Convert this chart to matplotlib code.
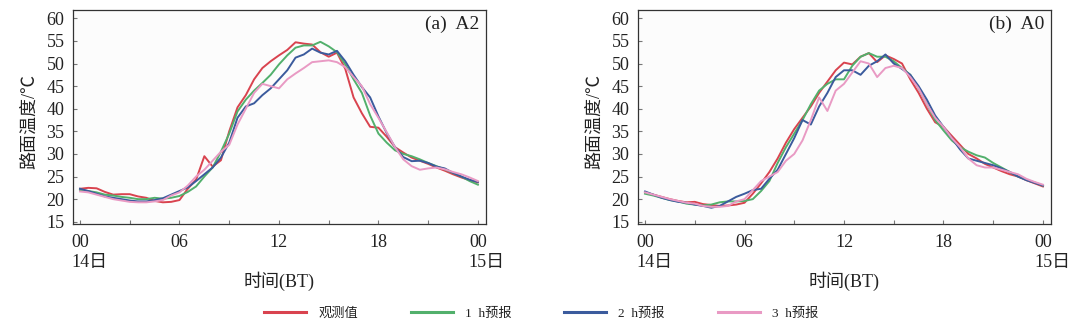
# Road surface temperature: observation vs 1/2/3 h forecasts, two stations
import numpy as np
import matplotlib
matplotlib.use("Agg")
import matplotlib.pyplot as plt

plt.rcParams['font.family'] = ['Liberation Serif', 'Noto Sans CJK SC']
plt.rcParams['text.color'] = '#222222'
plt.rcParams['xtick.labelcolor'] = '#222222'
plt.rcParams['ytick.labelcolor'] = '#222222'

# time axis (hours from 00 on the 14th), half-hour samples
hours = np.arange(0, 24.5, 0.5)

# (a) A2
obs_a = [22.3, 22.5, 22.4, 21.6, 21.0, 21.1, 21.1, 20.6, 20.3, 19.6, 19.3, 19.4, 19.8,
         22.3, 24.3, 29.5, 27.2, 28.6, 35.0, 40.3, 43.0, 46.5, 49.0, 50.5, 51.8,
         53.0, 54.7, 54.4, 54.2, 52.5, 51.5, 52.4, 48.8, 42.5, 39.0, 36.0, 35.8,
         33.8, 31.5, 30.3, 29.2, 28.5, 27.8, 27.0, 26.3, 25.5, 24.8, 24.2, 23.7]
f1_a = [22.0, 21.8, 21.5, 21.0, 20.8, 20.5, 20.3, 20.0, 20.0, 20.3, 20.1, 20.3, 20.7,
        21.6, 22.8, 25.0, 27.0, 30.5, 34.5, 39.4, 42.0, 44.0, 45.7, 47.5, 49.8,
        51.8, 53.5, 54.0, 54.0, 54.8, 53.8, 52.5, 49.8, 46.5, 43.5, 38.5, 34.5,
        32.5, 30.8, 30.0, 29.5, 28.8, 28.0, 27.3, 26.6, 25.8, 25.0, 24.0, 23.2]
f2_a = [22.3, 21.8, 21.2, 20.6, 20.3, 20.0, 19.7, 19.5, 19.5, 19.8, 20.2, 21.0, 21.8,
        22.6, 24.0, 25.5, 27.0, 29.2, 32.5, 38.0, 40.5, 41.2, 43.0, 44.5, 46.5,
        48.5, 51.3, 52.0, 53.3, 52.4, 52.0, 52.8, 50.5, 47.5, 44.8, 42.5, 38.3,
        34.6, 31.5, 29.3, 28.4, 28.5, 28.0, 27.2, 26.8, 25.8, 25.0, 24.3, 23.8]
f3_a = [21.7, 21.5, 21.0, 20.5, 20.0, 19.7, 19.4, 19.3, 19.3, 19.5, 19.8, 20.8, 21.5,
        23.0, 25.0, 26.5, 28.5, 30.5, 32.0, 36.5, 40.0, 43.5, 45.5, 45.0, 44.5,
        46.5, 47.8, 49.0, 50.3, 50.5, 50.7, 50.3, 49.2, 47.0, 45.0, 41.0, 38.0,
        34.8, 31.5, 28.8, 27.3, 26.5, 26.8, 27.0, 26.6, 26.0, 25.5, 24.8, 24.0]

# (b) A0
obs_b = [21.5, 21.0, 20.5, 20.0, 19.6, 19.3, 19.4, 18.9, 18.7, 18.5, 18.6, 18.8, 19.2,
         21.2, 23.5, 26.0, 29.0, 32.5, 35.5, 38.0, 40.5, 43.5, 46.0, 48.5, 50.2,
         49.8, 51.5, 52.3, 50.3, 51.8, 51.0, 50.0, 46.5, 43.5, 40.0, 37.0, 36.0,
         34.0, 32.0, 30.0, 29.0, 27.8, 27.0, 26.2, 25.5, 25.0, 24.2, 23.5, 22.8]
f1_b = [21.2, 20.8, 20.3, 19.8, 19.5, 19.0, 18.8, 18.6, 18.8, 19.3, 19.5, 19.5, 19.6,
        20.0, 21.8, 24.0, 28.0, 31.5, 34.5, 37.5, 41.0, 44.0, 45.5, 46.5, 46.5,
        49.5, 51.5, 52.3, 51.5, 51.5, 50.5, 49.0, 47.5, 44.5, 41.0, 37.5, 35.2,
        33.0, 31.5, 30.5, 29.7, 29.2, 28.0, 27.0, 26.0, 25.0, 24.3, 23.7, 23.0]
f2_b = [21.7, 21.0, 20.3, 19.8, 19.4, 19.2, 18.8, 18.5, 18.1, 18.5, 19.5, 20.5, 21.2,
        22.0, 22.3, 24.5, 26.5, 30.0, 33.5, 37.5, 36.5, 40.5, 43.5, 47.0, 48.5,
        48.5, 47.5, 49.5, 50.5, 52.0, 50.0, 48.8, 47.5, 45.0, 42.0, 38.5, 36.0,
        33.5, 31.0, 29.0, 28.5, 28.0, 27.5, 26.8, 26.0, 25.0, 24.2, 23.6, 23.0]
f3_b = [21.5, 21.0, 20.5, 20.0, 19.6, 19.2, 19.0, 18.5, 18.3, 18.3, 18.5, 19.5, 20.0,
        22.0, 24.0, 25.0, 26.0, 28.5, 30.0, 33.0, 37.5, 42.5, 39.5, 44.0, 45.5,
        48.0, 50.5, 50.0, 47.0, 49.0, 49.5, 49.0, 47.0, 44.5, 41.0, 38.0, 36.0,
        33.5, 31.5, 29.0, 27.5, 27.0, 27.0, 26.5, 26.0, 25.5, 24.5, 23.8, 23.2]

series_names = ['观测值', '1  h预报', '2  h预报', '3  h预报']
colors = ['#d9434f', '#52b06c', '#3b5b9d', '#e99ac4']
panel_titles = ['(a)  A2', '(b)  A0']
xtick_pos = [0, 3, 6, 9, 12, 15, 18, 21, 24]
xtick_lab = ['00', '', '06', '', '12', '', '18', '', '00']
yticks = [15, 20, 25, 30, 35, 40, 45, 50, 55, 60]

fig = plt.figure(figsize=(10.82, 3.29), dpi=100)
ax_a = fig.add_axes([0.0672, 0.3191, 0.3817, 0.6514])
ax_b = fig.add_axes([0.5894, 0.3191, 0.3817, 0.6514])

panels = [(ax_a, [obs_a, f1_a, f2_a, f3_a]), (ax_b, [obs_b, f1_b, f2_b, f3_b])]
for i, (ax, data) in enumerate(panels):
    ax.set_facecolor('#fcfcfc')
    lines = []
    for vals, c, name in zip(data, colors, series_names):
        ln, = ax.plot(hours, vals, color=c, lw=1.4, label=name)
        lines.append(ln)
    ax.set_xlim(-0.44, 24.47)
    ax.set_ylim(14.5, 61.9)
    ax.set_xticks(xtick_pos)
    ax.set_xticklabels(xtick_lab)
    ax.set_yticks(yticks)
    ax.tick_params(direction='in', length=3, width=0.8, color='#777777',
                   labelsize=13, pad=6)
    ax.tick_params(axis='x', pad=7)
    for s in ax.spines.values():
        s.set_linewidth(0.9)
        s.set_color('#333333')
    # day labels under first / last tick
    ax.annotate('14日', xy=(0, 0), xycoords=('data', 'axes fraction'),
                xytext=(-6.5, -28), textcoords='offset points',
                ha='left', va='center', fontsize=13)
    ax.annotate('15日', xy=(24, 0), xycoords=('data', 'axes fraction'),
                xytext=(-6.5, -28), textcoords='offset points',
                ha='left', va='center', fontsize=13)
    ax.text(0.5, -0.266, '时间(BT)', transform=ax.transAxes,
            ha='center', va='center', fontsize=13)
    ax.text(-0.105, 0.48, '路面温度/℃', transform=ax.transAxes, rotation=90,
            ha='center', va='center', fontsize=13)
    ax.text(0.984, 0.93, panel_titles[i], transform=ax.transAxes,
            ha='right', va='center', fontsize=14)

leg = fig.legend(handles=lines, loc='center', bbox_to_anchor=(0.5, 1 - 313.5 / 329),
                 ncol=4, frameon=False, fontsize=9.5, handlelength=3.2,
                 handletextpad=0.9, columnspacing=4.0)
for h in leg.legend_handles:
    h.set_linewidth(2.2)

fig.savefig('out.png', dpi=100)
